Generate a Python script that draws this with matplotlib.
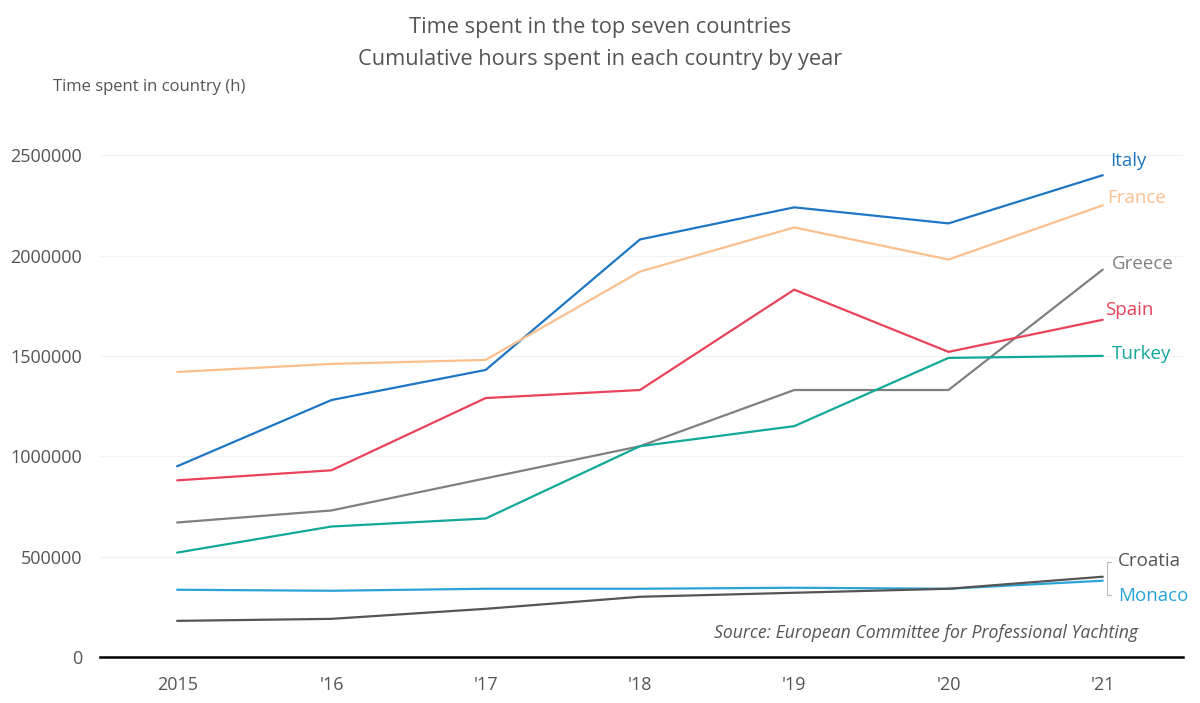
import matplotlib
matplotlib.use("Agg")
import matplotlib.pyplot as plt

years = [2015, 2016, 2017, 2018, 2019, 2020, 2021]
year_labels = ["2015", "'16", "'17", "'18", "'19", "'20", "'21"]

italy = [950000, 1280000, 1430000, 2080000, 2240000, 2160000, 2400000]
france = [1420000, 1460000, 1480000, 1920000, 2140000, 1980000, 2250000]
greece = [670000, 730000, 890000, 1050000, 1330000, 1330000, 1930000]
spain = [880000, 930000, 1290000, 1330000, 1830000, 1520000, 1680000]
turkey = [520000, 650000, 690000, 1050000, 1150000, 1490000, 1500000]
monaco = [335000, 330000, 340000, 340000, 345000, 340000, 380000]
croatia = [180000, 190000, 240000, 300000, 320000, 340000, 400000]

yticks = [0, 500000, 1000000, 1500000, 2000000, 2500000]

# name, values, colour, label offset (points)
series = [
    ("Italy", italy, "#1f77c4", (5, 10)),
    ("France", france, "#fcc08f", (3, 5)),
    ("Greece", greece, "#808080", (6.5, 4.3)),
    ("Spain", spain, "#e8435a", (1.5, 7)),
    ("Turkey", turkey, "#12a89a", (6.5, 1.5)),
    ("Monaco", monaco, "#2aa3d8", (11, -11)),
    ("Croatia", croatia, "#555555", (11, 11)),
]

plt.rcParams['font.family'] = ['Open Sans', 'DejaVu Sans']

W, H = 1200, 703
fig = plt.figure(figsize=(12, 7.03), dpi=100)
ax = fig.add_axes([100 / W, 1 - 657 / H, (1183 - 100) / W, 542 / H])

for name, vals, col, off in series:
    ax.plot(years, vals, color=col, lw=1.6, solid_capstyle='round', zorder=3)
    ax.annotate(name, (years[-1], vals[-1]), xytext=off, textcoords='offset points',
                color=col, fontsize=13.5, ha='left', va='center')

# bracket grouping Croatia / Monaco labels
def fx(px):
    return (px - 100) / (1183 - 100)

def fy(py):
    return (657 - py) / 542

ax.plot([fx(1111), fx(1107), fx(1107), fx(1111)],
        [fy(562), fy(562), fy(595), fy(595)],
        transform=ax.transAxes, color="#bbbbbb", lw=0.8, clip_on=False)

ax.set_xlim(2014.5, 2021.52)
ax.set_ylim(0, 2700000)
ax.set_xticks(years)
ax.set_xticklabels(year_labels)
ax.set_yticks(yticks)
ax.set_yticklabels([str(v) for v in yticks])
ax.tick_params(axis='both', length=0, labelsize=13, colors="#555555")
ax.tick_params(axis='x', pad=14)
ax.tick_params(axis='y', pad=13)

for v in yticks[1:]:
    ax.axhline(v, color="#f2f2f2", lw=0.8, zorder=1)

for s in ['top', 'right', 'left']:
    ax.spines[s].set_visible(False)
ax.spines['bottom'].set_color('black')
ax.spines['bottom'].set_linewidth(1.8)

fig.text(0.5, 1 - 27 / H, "Time spent in the top seven countries", ha='center', va='center',
         fontsize=15.7, color="#555555")
fig.text(0.5, 1 - 59 / H, "Cumulative hours spent in each country by year", ha='center', va='center',
         fontsize=15.7, color="#555555")
fig.text(53 / W, 1 - 87 / H, "Time spent in country (h)", ha='left', va='center',
         fontsize=12, color="#555555")
fig.text(1138 / W, 1 - 633 / H, "Source: European Committee for Professional Yachting", ha='right',
         va='center', fontsize=12.7, color="#555555", style='italic')

fig.savefig("out.png", dpi=100, facecolor='white')
